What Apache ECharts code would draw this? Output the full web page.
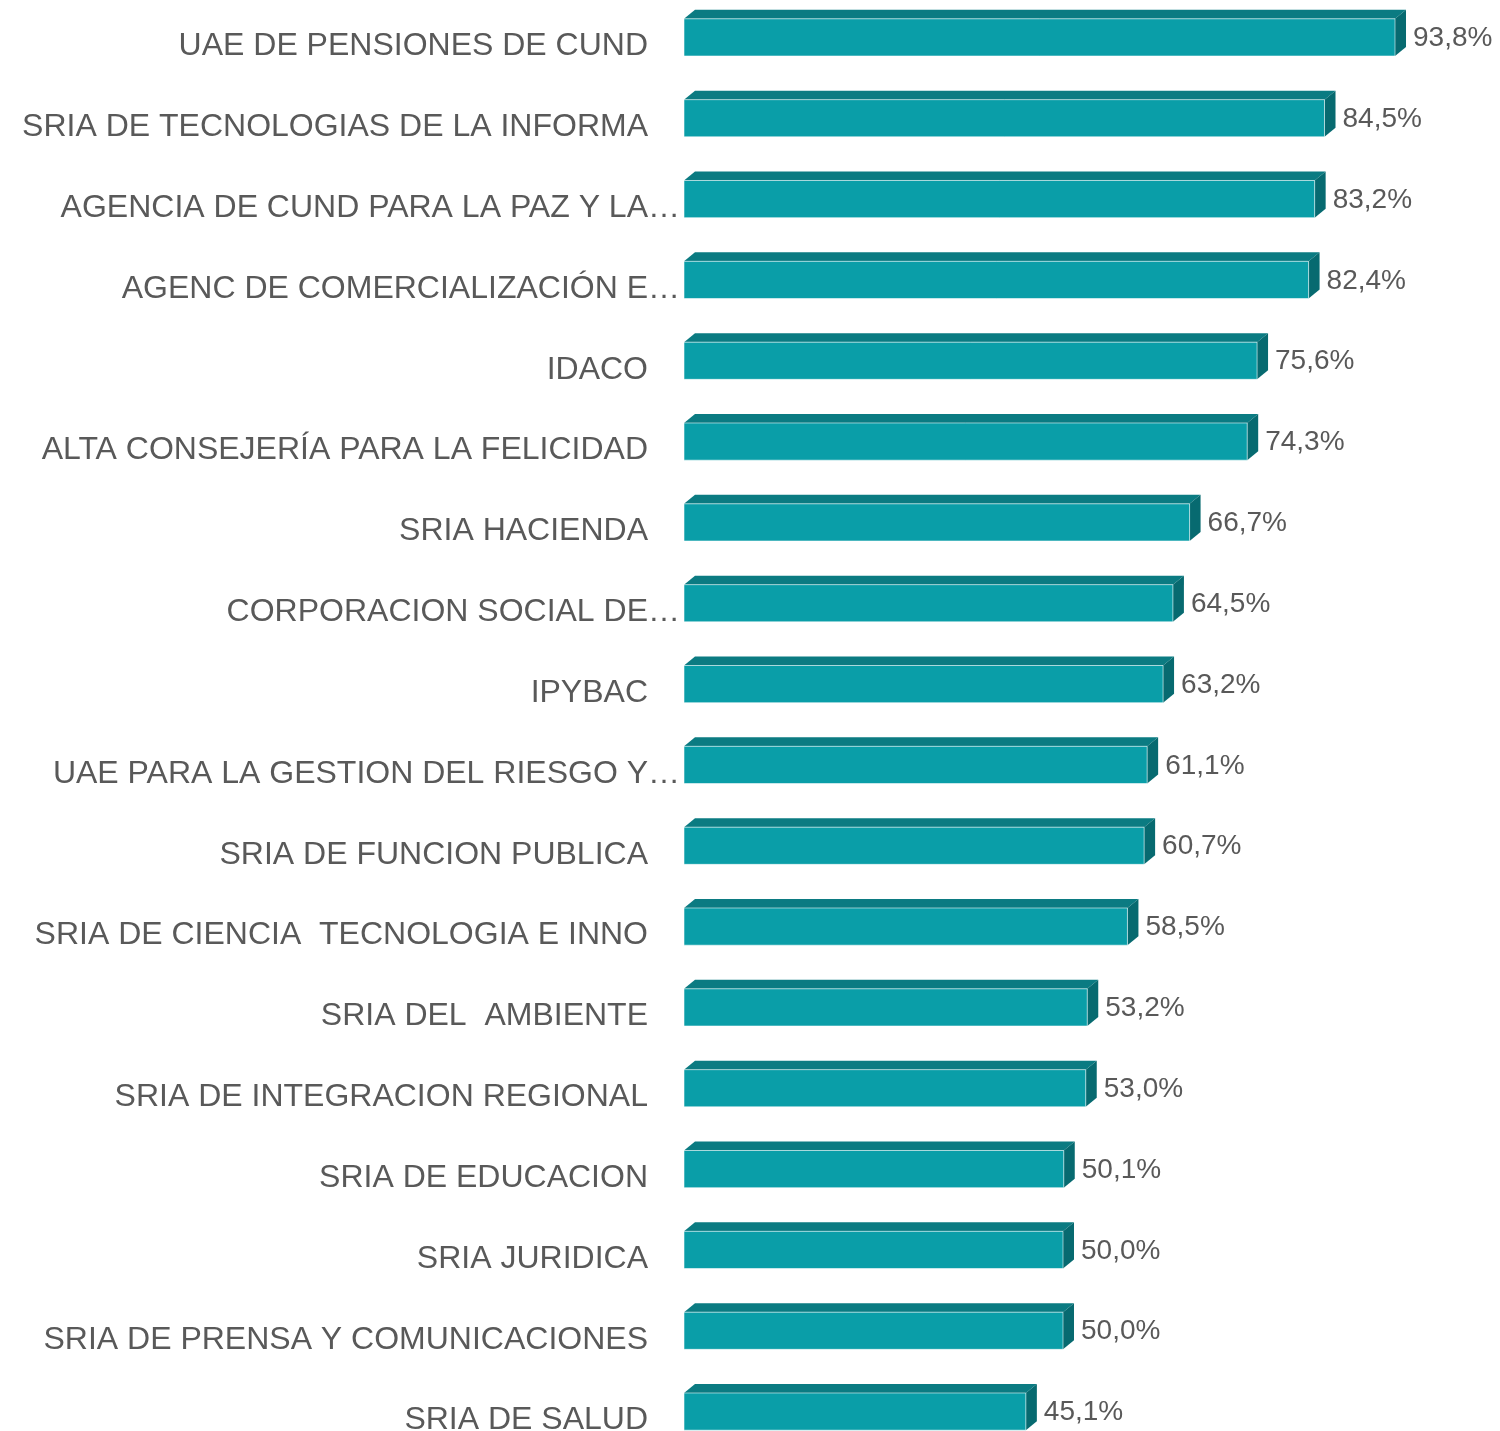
<!DOCTYPE html>
<html>
<head>
<meta charset="utf-8">
<title>Avance por dependencia</title>
<script src="https://cdn.jsdelivr.net/npm/echarts@6/dist/echarts.min.js"></script>
<style>
  html, body { margin: 0; padding: 0; background: #fff; }
  #chart { width: 1500px; height: 1431px; }
</style>
</head>
<body>
<div id="chart"></div>
<script>
var categories = [
  'UAE DE PENSIONES DE CUND',
  'SRIA DE TECNOLOGIAS DE LA INFORMA',
  'AGENCIA DE CUND PARA LA PAZ Y LA…',
  'AGENC DE COMERCIALIZACIÓN E…',
  'IDACO',
  'ALTA CONSEJERÍA PARA LA FELICIDAD',
  'SRIA HACIENDA',
  'CORPORACION SOCIAL DE…',
  'IPYBAC',
  'UAE PARA LA GESTION DEL RIESGO Y…',
  'SRIA DE FUNCION PUBLICA',
  'SRIA DE CIENCIA  TECNOLOGIA E INNO',
  'SRIA DEL  AMBIENTE',
  'SRIA DE INTEGRACION REGIONAL',
  'SRIA DE EDUCACION',
  'SRIA JURIDICA',
  'SRIA DE PRENSA Y COMUNICACIONES',
  'SRIA DE SALUD'
];
var values = [93.8, 84.5, 83.2, 82.4, 75.6, 74.3, 66.7, 64.5, 63.2, 61.1, 60.7, 58.5, 53.2, 53.0, 50.1, 50.0, 50.0, 45.1];

var colFront = '#0a9ea8';
var colTop = '#0b7b82';
var colSide = '#076a70';

function fmt(v) {
  return v.toFixed(1).replace('.', ',') + '%';
}

// barra con efecto 3D (frente, tapa y lado)
function renderBar(params, api) {
  var idx = api.value(0);
  var val = api.value(1);
  var p0 = api.coord([0, idx]);
  var p1 = api.coord([val, idx]);
  var h = api.size([0, 1])[1] * 0.46;
  var dx = 11, dy = 9;
  var x0 = p0[0], x1 = p1[0];
  var yt = p0[1] - h / 2, yb = p0[1] + h / 2;
  return {
    type: 'group',
    children: [
      {
        type: 'polygon',
        shape: { points: [[x0, yt], [x0 + dx, yt - dy], [x1 + dx, yt - dy], [x1, yt]] },
        style: { fill: colTop }
      },
      {
        type: 'polygon',
        shape: { points: [[x1, yt], [x1 + dx, yt - dy], [x1 + dx, yb - dy], [x1, yb]] },
        style: { fill: colSide }
      },
      {
        type: 'rect',
        shape: { x: x0, y: yt, width: x1 - x0, height: h },
        style: { fill: colFront, stroke: 'rgba(255,255,255,0.55)', lineWidth: 1 }
      },
      {
        type: 'text',
        x: x1 + dx + 7,
        y: p0[1] + 1,
        style: {
          text: fmt(val),
          fill: '#595959',
          font: '28px "Liberation Sans", Arial, sans-serif',
          verticalAlign: 'middle',
          align: 'left'
        }
      }
    ]
  };
}

var chart = echarts.init(document.getElementById('chart'), null, { renderer: 'canvas' });
chart.setOption({
  animation: false,
  grid: { left: 684, width: 758, top: -3, height: 1455, outerBoundsMode: 'none', containLabel: false },
  xAxis: {
    type: 'value',
    min: 0,
    max: 100,
    show: false,
    splitLine: { show: false }
  },
  yAxis: {
    type: 'category',
    data: categories,
    inverse: true,
    axisLine: { show: false },
    axisTick: { show: false },
    splitLine: { show: false },
    axisLabel: {
      interval: 0,
      margin: 4,
      formatter: function (v) {
        return v.indexOf('…') >= 0 ? '{e|' + v + '}' : '{n|' + v + '}';
      },
      rich: {
        n: {
          color: '#595959',
          fontSize: 32,
          fontFamily: '"Liberation Sans", Arial, sans-serif',
          padding: [18, 32, 0, 0]
        },
        e: {
          color: '#595959',
          fontSize: 32,
          fontFamily: '"Liberation Sans", Arial, sans-serif',
          padding: [18, 0, 0, 0]
        }
      }
    }
  },
  series: [{
    type: 'custom',
    renderItem: renderBar,
    encode: { x: 1, y: 0 },
    data: values.map(function (v, i) { return [i, v]; })
  }]
});
</script>
</body>
</html>
